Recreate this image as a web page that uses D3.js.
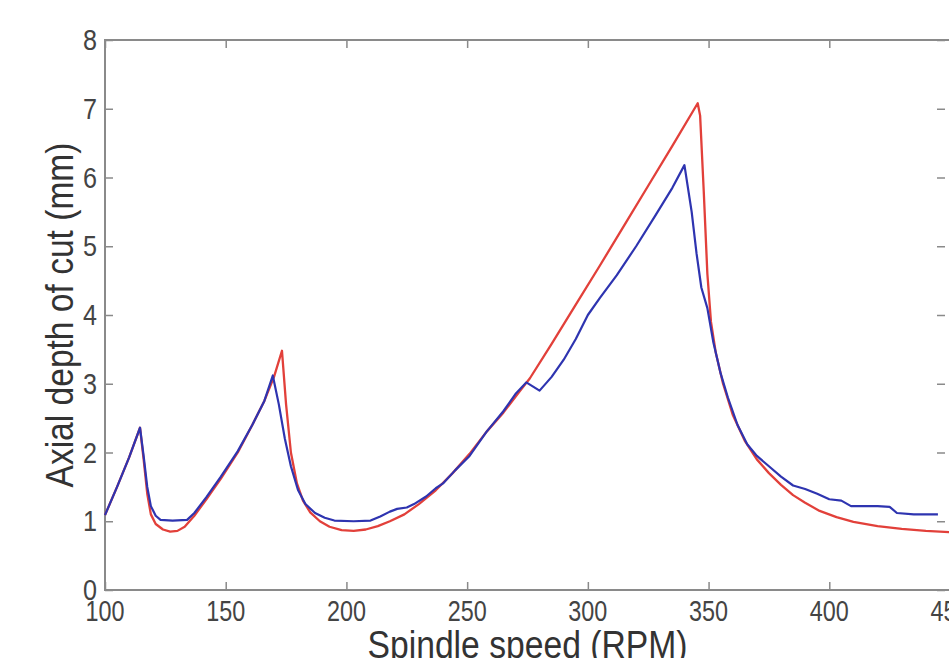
<!DOCTYPE html>
<html>
<head>
<meta charset="utf-8">
<script src="https://cdn.jsdelivr.net/npm/d3@7"></script>
<style>
  html, body { margin: 0; padding: 0; background: #fff; overflow: hidden; }
  text { font-family: "Liberation Sans Narrow", "Arial Narrow", "Liberation Sans", Arial, sans-serif; }
</style>
</head>
<body>
<svg id="chart" width="949" height="658"></svg>
<script>
// predicted stability boundary (red)
let redRpm = [100, 105, 110, 114.5, 116, 117.5, 119, 121, 124, 127, 130, 133, 137, 142, 148, 155, 161, 166, 170, 173.3,
  175, 177, 179.5, 182, 185, 189, 193, 198, 203, 208, 213, 218, 224, 230, 237, 244, 251, 258, 265, 272,
  276, 285, 295, 305, 315, 325, 335, 345.5, 346.5, 348, 349.5, 351, 353, 356, 360, 365, 370, 375, 380,
  385, 390, 396, 403, 410, 420, 430, 440, 450];
let redDepth = [1.09, 1.5, 1.93, 2.36, 1.9, 1.4, 1.1, 0.96, 0.88, 0.85, 0.86, 0.92, 1.08, 1.32, 1.62, 2.0, 2.4, 2.75, 3.1, 3.48,
  2.7, 2.0, 1.55, 1.3, 1.13, 1.0, 0.92, 0.87, 0.86, 0.88, 0.93, 1.0, 1.1, 1.25, 1.45, 1.7, 1.98, 2.3, 2.58, 2.9,
  3.08, 3.58, 4.15, 4.72, 5.3, 5.88, 6.46, 7.08, 6.9, 5.8, 4.6, 3.9, 3.45, 3.0, 2.55, 2.17, 1.9, 1.7, 1.53,
  1.38, 1.27, 1.15, 1.06, 0.99, 0.93, 0.89, 0.86, 0.84];

// measured stability boundary (blue)
let blueRpm = [100, 105, 110, 114.5, 116, 117.5, 119, 121, 123, 128, 134, 137, 142, 148, 155, 161, 166, 169.5,
  172, 174.5, 177, 180, 183, 187, 191, 195, 203, 210, 214, 218, 221, 225, 228, 233, 237, 240, 245, 251,
  258, 265, 270, 274.5, 280, 285, 290, 295, 300, 305, 312, 320, 328, 335, 340, 343, 345, 347, 349.5,
  352, 355, 358, 362, 366, 370, 375, 380, 385, 390, 395, 400, 405, 409, 420, 425, 428, 435, 445];
let blueDepth = [1.09, 1.5, 1.93, 2.36, 1.95, 1.5, 1.22, 1.08, 1.02, 1.01, 1.02, 1.12, 1.35, 1.65, 2.02, 2.4, 2.75, 3.12,
  2.7, 2.2, 1.8, 1.45, 1.25, 1.12, 1.05, 1.01, 1.0, 1.01, 1.07, 1.14, 1.18, 1.2, 1.25, 1.36, 1.48, 1.55, 1.74, 1.95,
  2.3, 2.6, 2.85, 3.02, 2.9, 3.1, 3.35, 3.65, 4.0, 4.25, 4.58, 5.0, 5.45, 5.85, 6.18, 5.5, 4.9, 4.4, 4.1,
  3.6, 3.15, 2.8, 2.4, 2.12, 1.95, 1.8, 1.65, 1.52, 1.47, 1.4, 1.32, 1.3, 1.22, 1.22, 1.21, 1.12, 1.1, 1.1];

let xTicks = [100, 150, 200, 250, 300, 350, 400, 450];
let yTicks = [0, 1, 2, 3, 4, 5, 6, 7, 8];

let svg = d3.select('#chart');

let plotLeft = 105, plotRight = 950, plotTop = 40, plotBottom = 590;

let x = d3.scaleLinear().domain([100, 450]).range([plotLeft, plotRight]);
let y = d3.scaleLinear().domain([0, 8]).range([plotBottom, plotTop]);

svg.append('rect').attr('width', 949).attr('height', 658).attr('fill', '#fff');

let axisColor = '#8a8a8a';
let textColor = '#444';

// frame
svg.append('rect')
  .attr('x', plotLeft).attr('y', plotTop)
  .attr('width', plotRight - plotLeft).attr('height', plotBottom - plotTop)
  .attr('fill', 'none').attr('stroke', axisColor).attr('stroke-width', 2);

// ticks pointing inward (bottom/top and left/right)
let tickLen = 8;
svg.append('g').attr('transform', `translate(0,${plotBottom})`)
  .call(d3.axisBottom(x).tickValues(xTicks).tickSize(-tickLen).tickFormat(''))
  .call(g => g.select('.domain').remove())
  .call(g => g.selectAll('line').attr('stroke', axisColor).attr('stroke-width', 1.5));
svg.append('g').attr('transform', `translate(0,${plotTop})`)
  .call(d3.axisTop(x).tickValues(xTicks).tickSize(-tickLen).tickFormat(''))
  .call(g => g.select('.domain').remove())
  .call(g => g.selectAll('line').attr('stroke', axisColor).attr('stroke-width', 1.5));
svg.append('g').attr('transform', `translate(${plotLeft},0)`)
  .call(d3.axisLeft(y).tickValues(yTicks).tickSize(-tickLen).tickFormat(''))
  .call(g => g.select('.domain').remove())
  .call(g => g.selectAll('line').attr('stroke', axisColor).attr('stroke-width', 1.5));
svg.append('g').attr('transform', `translate(${plotRight - 5},0)`)
  .call(d3.axisRight(y).tickValues(yTicks).tickSize(-tickLen).tickFormat(''))
  .call(g => g.select('.domain').remove())
  .call(g => g.selectAll('line').attr('stroke', axisColor).attr('stroke-width', 1.5));

// tick labels (slightly condensed, like the original)
svg.append('g').selectAll('text')
  .data(xTicks).enter().append('text')
  .attr('x', d => x(d))
  .attr('y', plotBottom + 31)
  .attr('text-anchor', 'middle')
  .attr('font-size', 29)
  .attr('fill', textColor)
  .attr('textLength', d => String(d).length * 13)
  .attr('lengthAdjust', 'spacingAndGlyphs')
  .text(d => d);

svg.append('g').selectAll('text')
  .data(yTicks).enter().append('text')
  .attr('x', plotLeft - 8)
  .attr('y', d => y(d) + 10)
  .attr('text-anchor', 'end')
  .attr('font-size', 29)
  .attr('fill', textColor)
  .attr('textLength', 14)
  .attr('lengthAdjust', 'spacingAndGlyphs')
  .text(d => d);

// axis titles
svg.append('text')
  .attr('x', (plotLeft + plotRight) / 2)
  .attr('y', plotBottom + 68)
  .attr('text-anchor', 'middle')
  .attr('font-size', 38)
  .attr('fill', '#333')
  .attr('textLength', 320)
  .attr('lengthAdjust', 'spacingAndGlyphs')
  .text('Spindle speed (RPM)');

svg.append('text')
  .attr('transform', `translate(73,${(plotTop + plotBottom) / 2}) rotate(-90)`)
  .attr('text-anchor', 'middle')
  .attr('font-size', 38)
  .attr('fill', '#333')
  .attr('textLength', 345)
  .attr('lengthAdjust', 'spacingAndGlyphs')
  .text('Axial depth of cut (mm)');

// curves
let line = d3.line()
  .x(d => x(d[0]))
  .y(d => y(d[1]));

let redData = redRpm.map((r, i) => [r, redDepth[i]]);
let blueData = blueRpm.map((r, i) => [r, blueDepth[i]]);

svg.append('path')
  .datum(redData)
  .attr('d', line)
  .attr('fill', 'none')
  .attr('stroke', '#e2403a')
  .attr('stroke-width', 2.3)
  .attr('stroke-linejoin', 'round');

svg.append('path')
  .datum(blueData)
  .attr('d', line)
  .attr('fill', 'none')
  .attr('stroke', '#2e34b0')
  .attr('stroke-width', 2.2)
  .attr('stroke-linejoin', 'round');
</script>
</body>
</html>
